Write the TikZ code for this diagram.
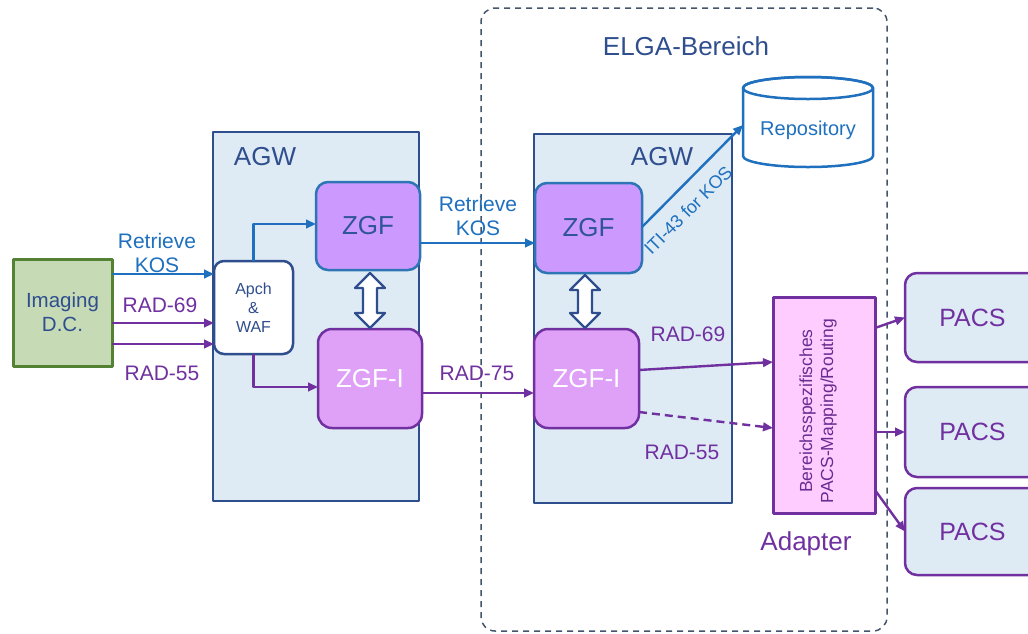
\documentclass[tikz,border=0pt]{standalone}
\usepackage{fontspec}
\setmainfont{Liberation Sans}
\usetikzlibrary{arrows.meta,calc}
\definecolor{dblue}{HTML}{2F4E8E}
\definecolor{zgftext}{HTML}{2F5597}
\definecolor{zline}{HTML}{2E75B6}
\definecolor{mblue}{HTML}{1F70BE}
\definecolor{purp}{HTML}{7030A0}
\definecolor{adtext}{HTML}{6A2C91}
\definecolor{lblue}{HTML}{DEEAF4}
\definecolor{zgffill}{HTML}{CC99FF}
\definecolor{zgfifill}{HTML}{DFA0F8}
\definecolor{adfill}{HTML}{FFCCFF}
\definecolor{gfill}{HTML}{C5DAB5}
\definecolor{gline}{HTML}{548235}
\definecolor{elga}{HTML}{44546A}
\newcommand{\fsz}[2]{\fontsize{#1}{#2}\selectfont}
\begin{document}
\begin{tikzpicture}[x=1pt,y=-1pt,line join=round,
  box/.style={anchor=north west,inner sep=0pt,outer sep=0pt,align=center},
  agw/.style={box,draw=dblue,fill=lblue,line width=2.5pt},
  zgf/.style={box,draw=zline,fill=zgffill,line width=2.5pt,rounded corners=12pt,text=zgftext,font=\fsz{26}{30}},
  zgfi/.style={box,draw=purp,fill=zgfifill,line width=2.5pt,rounded corners=14pt,text=white,font=\fsz{26}{30}},
  pacs/.style={box,draw=purp,fill=lblue,line width=2.5pt,rounded corners=12pt,text=purp,font=\fsz{25}{30},minimum width=135pt},
  lbl/.style={inner sep=0pt,align=center,font=\fsz{21}{24}},
  barr/.style={draw=mblue,line width=2.4pt,-{Triangle[length=10pt,width=8.5pt]}},
  parr/.style={draw=purp,line width=2.4pt,-{Triangle[length=10pt,width=8.5pt]}},
  dbl/.style={draw=dblue,fill=white,line width=2.2pt}
]
\useasboundingbox (0,0) rectangle (1028,633);
\clip (0,0) rectangle (1028,633);

% ELGA area
\node[box,draw=elga,dash pattern=on 6pt off 5pt,line width=1.5pt,rounded corners=14pt,minimum width=406pt,minimum height=623pt] (elga) at (481,8) {};
\node[lbl,text=dblue,font=\fsz{26}{30}] (elgat) at (686,46) {ELGA-Bereich};

% AGW boxes
\node[agw,minimum width=206pt,minimum height=369pt] (agwL) at (213,132) {};
\node[lbl,text=dblue,font=\fsz{26}{30}] (agwLt) at (265,157) {AGW};
\node[agw,minimum width=198pt,minimum height=369pt] (agwR) at (534,134) {};
\node[lbl,text=dblue,font=\fsz{26}{30}] (agwRt) at (662,157) {AGW};

% Imaging
\node[box,draw=gline,fill=gfill,line width=3pt,minimum width=99pt,minimum height=107pt,text=dblue,font=\fsz{20.5}{24}] (img) at (13,259) {Imaging\\D.C.};

% Apch
\node[box,draw=dblue,fill=white,line width=2.5pt,rounded corners=10pt,minimum width=79pt,minimum height=93pt,text=dblue,font=\fsz{16}{19}] (apch) at (214,261) {Apch\\\&\\WAF};

% ZGF nodes
\node[zgf,minimum width=104pt,minimum height=88pt] (zgfL) at (316,182) {ZGF};
\node[zgfi,minimum width=104pt,minimum height=99pt] (zgfiL) at (318,329) {ZGF-I};
\node[zgf,minimum width=107pt,minimum height=90pt] (zgfR) at (535,183) {ZGF};
\node[zgfi,minimum width=105pt,minimum height=99pt] (zgfiR) at (534,329) {ZGF-I};

% double arrows
\draw[dbl] (370,273) -- (385,288) -- (377,288) -- (377,313) -- (385,313) -- (370,328) -- (355,313) -- (363,313) -- (363,288) -- (355,288) -- cycle;
\draw[dbl] (585,275) -- (600,290) -- (592,290) -- (592,313) -- (600,313) -- (585,328) -- (570,313) -- (578,313) -- (578,290) -- (570,290) -- cycle;

% Repository
\node[box,minimum width=130pt,minimum height=90pt] (repo) at (743,77) {};
\draw[draw=mblue,fill=white,line width=2.5pt] (repo.north west) ++(0,11) -- ++(0,68) arc[start angle=180,end angle=360,x radius=65pt,y radius=11pt] -- ++(0,-68) arc[start angle=0,end angle=180,x radius=65pt,y radius=11pt] -- cycle;
\draw[draw=mblue,line width=2.5pt] (808,88) ellipse[x radius=65pt,y radius=11pt];
\node[lbl,text=mblue,font=\fsz{20}{24}] (repot) at (808,130) {Repository};

% Adapter
\node[box,draw=purp,fill=adfill,line width=3pt,minimum width=102pt,minimum height=216pt] (adapter) at (773,297) {};
\node[lbl,rotate=90,text=adtext,font=\fsz{17.5}{21}] (adt) at (818,411) {Bereichsspezifisches\\PACS-Mapping/Routing};
\node[lbl,text=purp,font=\fsz{26}{30}] (adl) at (806,544) {Adapter};

% PACS
\node[pacs,minimum height=89pt] (pacs1) at (905,273) {PACS};
\node[pacs,minimum height=90pt] (pacs2) at (905,387) {PACS};
\node[pacs,minimum height=87pt] (pacs3) at (905,488) {PACS};

% connectors left
\draw[barr] (img.east |- 0,274) -- (apch.west |- 0,274);
\draw[parr] (img.east |- 0,323) -- (apch.west |- 0,323);
\draw[parr] (img.east |- 0,344) -- (apch.west |- 0,344);
\node[lbl,text=mblue] (rk1) at (157,253) {Retrieve\\KOS};
\node[lbl,text=purp] (r69a) at (160,305) {RAD-69};
\node[lbl,text=purp] (r55a) at (162,373) {RAD-55};

\draw[barr] (apch.north) |- (zgfL.west |- 0,224);
\draw[parr] (apch.south) |- (zgfiL.west |- 0,387);

% middle
\draw[barr] (zgfL.east |- 0,243) -- (zgfR.west |- 0,243);
\node[lbl,text=mblue] (rk2) at (478,216) {Retrieve\\KOS};
\draw[parr] (zgfiL.east |- 0,393) -- (zgfiR.west |- 0,393);
\node[lbl,text=purp] (r75) at (477,373) {RAD-75};

% ITI-43
\draw[barr] (zgfR.east |- 0,227) -- (repo.west |- 0,125);
\node[lbl,rotate=45,text=mblue,font=\fsz{18}{22}] (iti) at (688,210) {ITI-43 for KOS};

% to adapter
\draw[parr] (zgfiR.east |- 0,370) -- (adapter.west |- 0,362);
\node[lbl,text=purp] (r69b) at (688,334) {RAD-69};
\draw[parr,dash pattern=on 8pt off 5pt] (zgfiR.east |- 0,412) -- (adapter.west |- 0,428);
\node[lbl,text=purp] (r55b) at (682,452) {RAD-55};

% to PACS
\draw[parr] (adapter.east |- 0,328) -- (pacs1.west);
\draw[parr] (adapter.east |- 0,432) -- (pacs2.west);
\draw[parr] (adapter.east |- 0,490) -- (pacs3.west);
\end{tikzpicture}
\end{document}
